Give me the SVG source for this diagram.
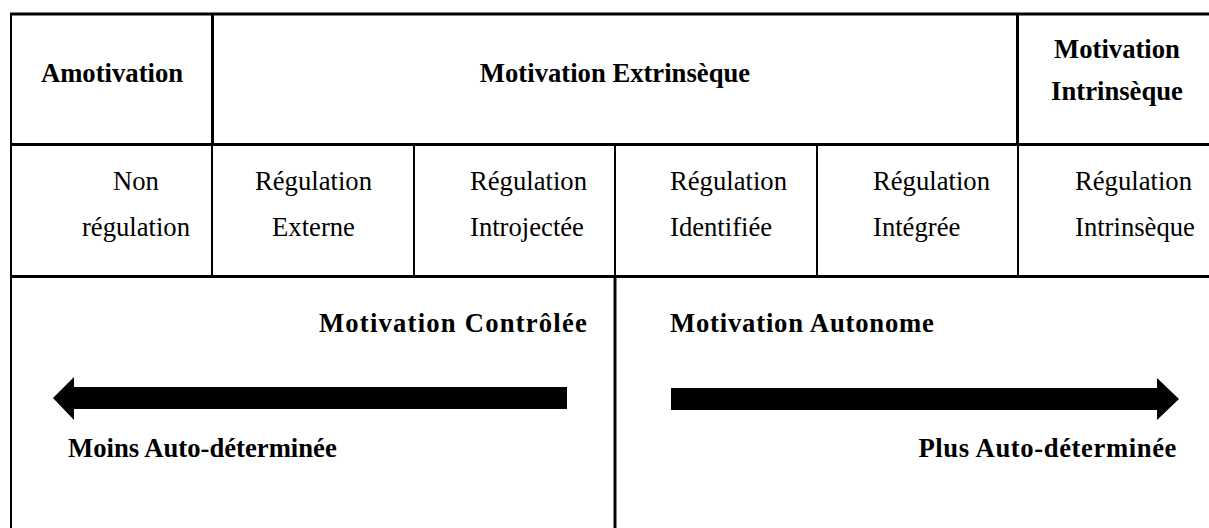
<svg xmlns="http://www.w3.org/2000/svg" width="1209" height="528" viewBox="0 0 1209 528">
<style>
.t{font-family:"Liberation Serif","Times New Roman",serif;font-size:26.67px;fill:#000}
.b{font-weight:bold}
.m{text-anchor:middle}
.e{text-anchor:end}
.ln{stroke:#000;fill:none}
.thin{stroke-width:2}
.thick{stroke-width:3}
</style>
<rect x="0" y="0" width="1209" height="528" fill="#fff"/>
<g id="grid">
<line class="ln thick" x1="10" y1="14" x2="1209" y2="14"/>
<line class="ln thin" x1="11" y1="13" x2="11" y2="528"/>
<line class="ln thick" x1="10" y1="144.5" x2="1209" y2="144.5"/>
<line class="ln thick" x1="212.5" y1="14" x2="212.5" y2="144"/>
<line class="ln thick" x1="1017.5" y1="14" x2="1017.5" y2="144"/>
<line class="ln thin" x1="212" y1="144" x2="212" y2="276"/>
<line class="ln thin" x1="414" y1="144" x2="414" y2="276"/>
<line class="ln thin" x1="615" y1="144" x2="615" y2="276"/>
<line class="ln thin" x1="817" y1="144" x2="817" y2="276"/>
<line class="ln thin" x1="1018" y1="144" x2="1018" y2="276"/>
<line class="ln thick" x1="10" y1="276.5" x2="1209" y2="276.5"/>
<line class="ln thick" x1="615" y1="276" x2="615" y2="528"/>
</g>
<g id="amotivation"><text class="t b m" x="112" y="82">Amotivation</text></g>
<g id="extrinseque"><text class="t b m" x="615" y="82">Motivation Extrinsèque</text></g>
<g id="intrinseque"><text class="t b m" x="1117" y="58">Motivation</text><text class="t b m" x="1117" y="100">Intrinsèque</text></g>
<g id="non-regulation"><text class="t m" x="136" y="190">Non</text><text class="t m" x="136" y="236">régulation</text></g>
<g id="reg-externe"><text class="t m" x="313.5" y="190">Régulation</text><text class="t m" x="313.5" y="236">Externe</text></g>
<g id="reg-introjectee"><text class="t" x="470" y="190">Régulation</text><text class="t" x="470" y="236">Introjectée</text></g>
<g id="reg-identifiee"><text class="t" x="670" y="190">Régulation</text><text class="t" x="670" y="236">Identifiée</text></g>
<g id="reg-integree"><text class="t" x="873" y="190">Régulation</text><text class="t" x="873" y="236">Intégrée</text></g>
<g id="reg-intrinseque"><text class="t" x="1075" y="190">Régulation</text><text class="t" x="1075" y="236">Intrinsèque</text></g>
<g id="controlee"><text class="t b e" x="588" y="332" letter-spacing="1.2">Motivation Contrôlée</text><text class="t b" x="68" y="457">Moins Auto-déterminée</text></g>
<g id="autonome"><text class="t b" x="670" y="332" letter-spacing="0.8">Motivation Autonome</text><text class="t b e" x="1177" y="457" letter-spacing="0.6">Plus Auto-déterminée</text></g>
<g id="connectors">
<polygon points="53,398 74,377 74,387 567,387 567,409 74,409 74,420" fill="#000"/>
<polygon points="671,388 1157,388 1157,378 1179,399 1157,420 1157,410 671,410" fill="#000"/>
</g>
</svg>
